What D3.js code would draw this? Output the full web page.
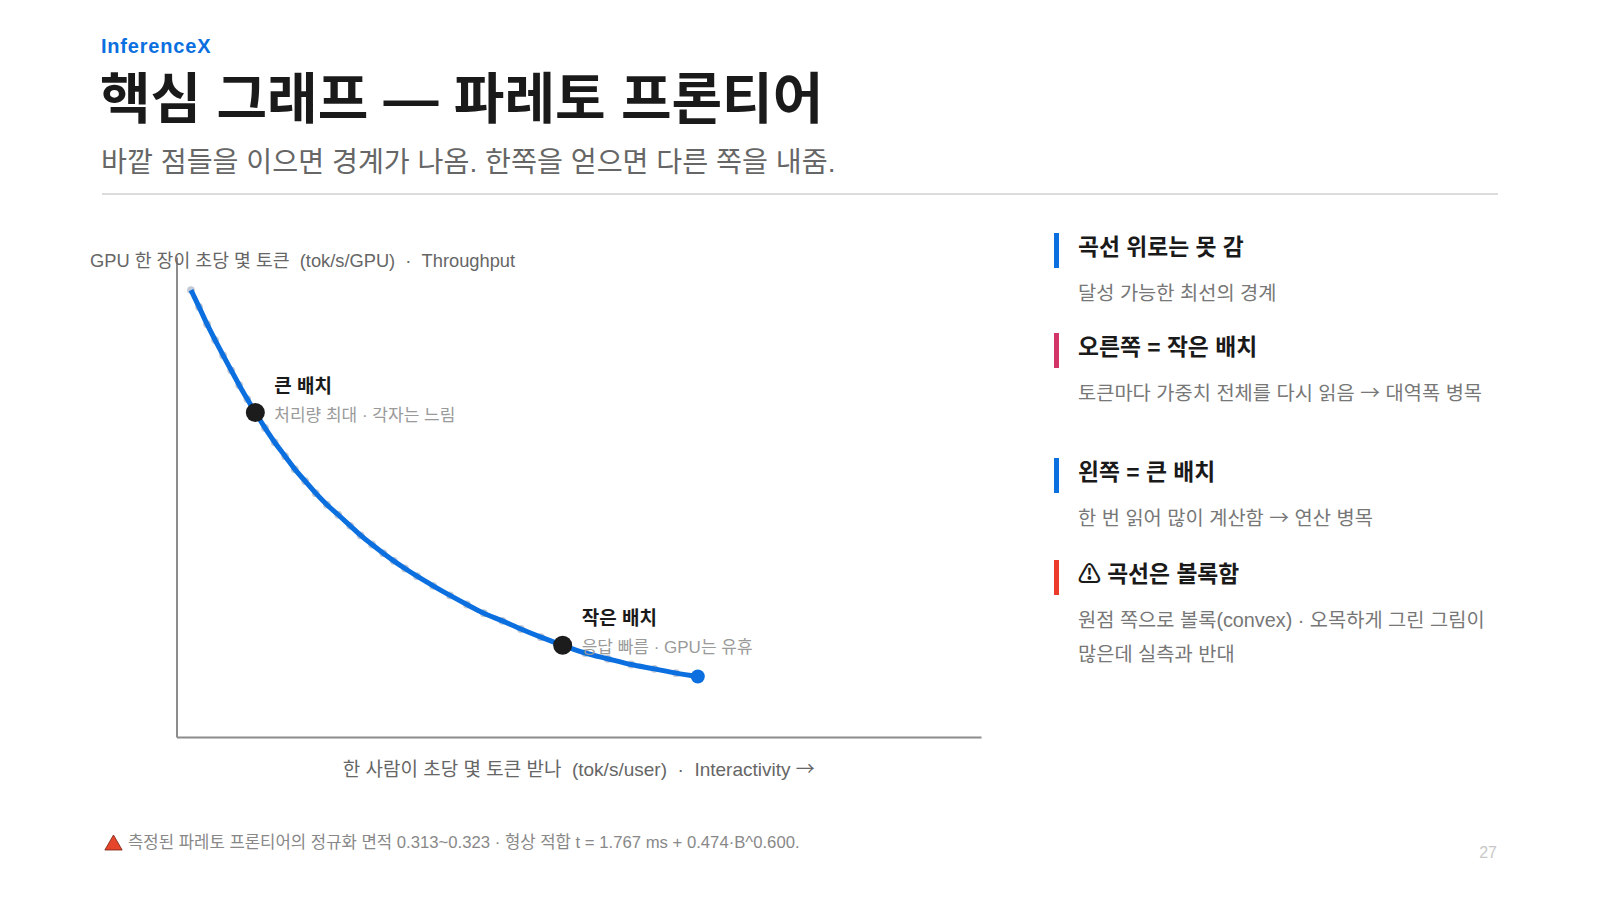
<!DOCTYPE html>
<html>
<head>
<meta charset="utf-8">
<script src="https://cdn.jsdelivr.net/npm/d3@7"></script>
<style>
  body { margin: 0; background: #fff; }
  svg { display: block; font-family: "Liberation Sans", "Noto Sans CJK KR", sans-serif; }
  text { white-space: pre; }
</style>
</head>
<body>
<div id="chart"></div>
<script>
const interactivity = [0.018,0.028,0.038,0.048,0.058,0.068,0.078,0.088,0.098,0.110,0.122,0.135,0.147,0.160,0.173,0.187,0.201,0.216,0.229,0.243,0.257,0.270,0.284,0.299,0.319,0.340,0.361,0.382,0.405,0.428,0.453,0.480,0.508,0.536,0.565,0.594,0.621,0.648];
const throughput = [0.931,0.896,0.860,0.827,0.795,0.764,0.733,0.704,0.676,0.644,0.614,0.585,0.558,0.533,0.508,0.484,0.463,0.440,0.420,0.401,0.383,0.367,0.351,0.335,0.315,0.295,0.276,0.258,0.242,0.225,0.208,0.191,0.175,0.163,0.151,0.142,0.133,0.126];

const highlightIdx = [8, 31];
const highlightTitles = ['큰 배치', '작은 배치'];
const highlightSubs = ['처리량 최대 · 각자는 느림', '응답 빠름 · GPU는 유휴'];

const yAxisLabel = 'GPU 한 장이 초당 몇 토큰  (tok/s/GPU)  ·  Throughput';
const xAxisLabel = '한 사람이 초당 몇 토큰 받나  (tok/s/user)  ·  Interactivity →';

const noteTitles = ['곡선 위로는 못 감', '오른쪽 = 작은 배치', '왼쪽 = 큰 배치', '⚠ 곡선은 볼록함'];
const noteDescs = [
  ['달성 가능한 최선의 경계'],
  ['토큰마다 가중치 전체를 다시 읽음 → 대역폭 병목'],
  ['한 번 읽어 많이 계산함 → 연산 병목'],
  ['원점 쪽으로 볼록(convex) · 오목하게 그린 그림이', '많은데 실측과 반대']
];
const noteColors = ['#0b6fdf', '#d23468', '#0b6fdf', '#ec3b2a'];

const W = 1600, H = 900;
const svg = d3.select('#chart').append('svg')
  .attr('width', W).attr('height', H);
svg.append('rect').attr('width', W).attr('height', H).attr('fill', '#fff');

// text with the arrow taken from the CJK font (long, thin one)
function addText(sel, str) {
  const parts = str.split('→');
  parts.forEach((p, i) => {
    if (i > 0) sel.append('tspan').attr('font-family', 'Noto Sans CJK KR').text('→');
    if (p) sel.append('tspan').text(p);
  });
  return sel;
}

// header
svg.append('text').attr('x', 101).attr('y', 53)
  .attr('font-size', 20).attr('font-weight', 700).attr('fill', '#0b6fdf')
  .attr('letter-spacing', 0.8).text('InferenceX');
svg.append('text').attr('x', 100).attr('y', 118)
  .attr('font-size', 55).attr('font-weight', 700).attr('fill', '#1a1a1a')
  .text('핵심 그래프 — 파레토 프론티어');
svg.append('text').attr('x', 101).attr('y', 172)
  .attr('font-size', 28.2).attr('fill', '#666')
  .text('바깥 점들을 이으면 경계가 나옴. 한쪽을 얻으면 다른 쪽을 내줌.');
svg.append('line').attr('x1', 102).attr('x2', 1498).attr('y1', 194).attr('y2', 194)
  .attr('stroke', '#dcdcdc').attr('stroke-width', 2);

// chart
const x = d3.scaleLinear().domain([0, 1]).range([176.5, 981]);
const y = d3.scaleLinear().domain([0, 1]).range([737, 257]);

const gx = svg.append('g').attr('transform', `translate(0,${y(0)})`)
  .call(d3.axisBottom(x).tickValues([]).tickSizeOuter(0));
const gy = svg.append('g').attr('transform', `translate(${x(0)},0)`)
  .call(d3.axisLeft(y).tickValues([]).tickSizeOuter(0));
[gx, gy].forEach(g => g.select('.domain').attr('stroke', '#8c8c8c').attr('stroke-width', 2));

svg.append('text').attr('x', 90).attr('y', 267)
  .attr('font-size', 18.3).attr('fill', '#666').text(yAxisLabel);
addText(svg.append('text').attr('x', (x(0) + x(1)) / 2).attr('y', 776)
  .attr('text-anchor', 'middle')
  .attr('font-size', 19).attr('fill', '#666'), xAxisLabel);

const pts = interactivity.map((v, i) => ({ x: v, y: throughput[i] }));

// measured points underneath
svg.append('g').selectAll('circle').data(pts).enter()
  .append('circle')
  .attr('cx', d => x(d.x)).attr('cy', d => y(d.y)).attr('r', 3.9)
  .attr('fill', '#c4cbd6');

const line = d3.line().x(d => x(d.x)).y(d => y(d.y)).curve(d3.curveMonotoneX);
svg.append('path').datum(pts)
  .attr('d', line)
  .attr('fill', 'none')
  .attr('stroke', '#0b6fdf')
  .attr('stroke-width', 5)
  .attr('stroke-linecap', 'butt');

// end of the frontier
const last = pts[pts.length - 1];
svg.append('circle').attr('cx', x(last.x)).attr('cy', y(last.y)).attr('r', 7)
  .attr('fill', '#0b6fdf');

// batch markers
highlightIdx.forEach((idx, i) => {
  const p = pts[idx];
  svg.append('circle').attr('cx', x(p.x)).attr('cy', y(p.y)).attr('r', 9.5)
    .attr('fill', '#1c1c1c');
  svg.append('text').attr('x', x(p.x) + 19).attr('y', y(p.y) - 20)
    .attr('font-size', 19).attr('font-weight', 700).attr('fill', '#1a1a1a')
    .text(highlightTitles[i]);
  svg.append('text').attr('x', x(p.x) + 19).attr('y', y(p.y) + 8)
    .attr('font-size', 17).attr('fill', '#9a9a9a')
    .text(highlightSubs[i]);
});

// side notes
const noteTop = [233, 333, 458, 560];
noteTitles.forEach((t, i) => {
  const g = svg.append('g').attr('transform', `translate(1054,${noteTop[i]})`);
  g.append('rect').attr('width', 5).attr('height', 35).attr('fill', noteColors[i]);
  g.append('text').attr('x', 24).attr('y', 22)
    .attr('font-size', 22.8).attr('font-weight', 700).attr('fill', '#1a1a1a').text(t);
  noteDescs[i].forEach((d, j) => {
    addText(g.append('text').attr('x', 24).attr('y', 67 + j * 34)
      .attr('font-size', 19.8).attr('fill', '#777'), d);
  });
});

// footnote
svg.append('path')
  .attr('d', d3.symbol(d3.symbolTriangle, 130)())
  .attr('transform', 'translate(113.5,845)')
  .attr('fill', '#e5452a').attr('stroke', '#7a1f10').attr('stroke-width', 0.8);
svg.append('text').attr('x', 128).attr('y', 848)
  .attr('font-size', 16.7).attr('fill', '#888')
  .text('측정된 파레토 프론티어의 정규화 면적 0.313~0.323 · 형상 적합 t = 1.767 ms + 0.474·B^0.600.');

svg.append('text').attr('x', 1497).attr('y', 858).attr('text-anchor', 'end')
  .attr('font-size', 16).attr('fill', '#c8c8c8').text('27');
</script>
</body>
</html>
